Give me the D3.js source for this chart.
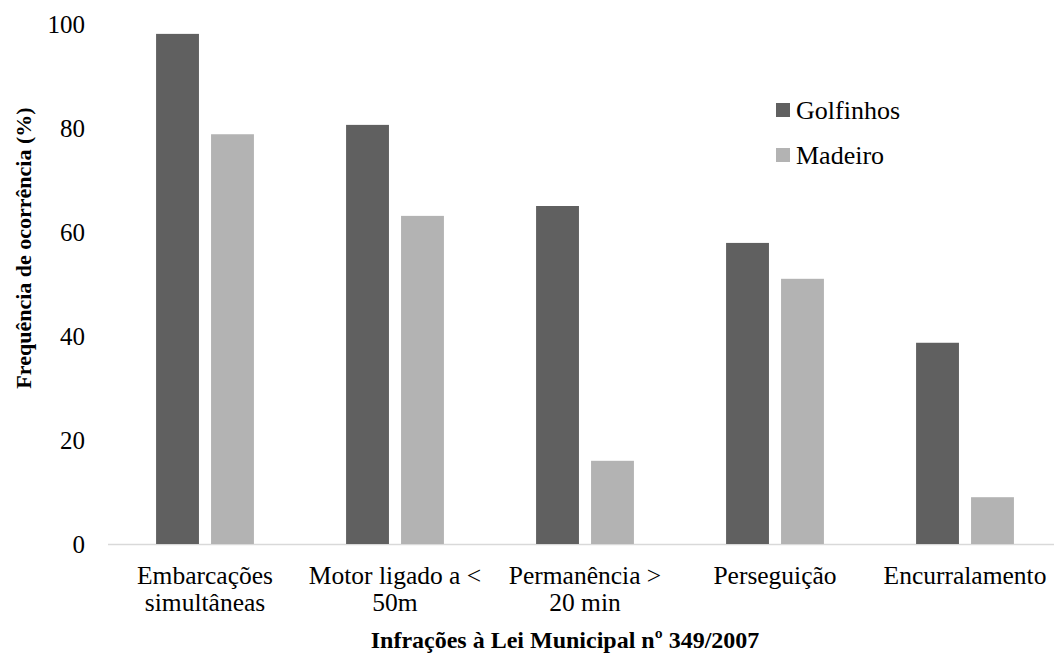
<!DOCTYPE html>
<html><head><meta charset="utf-8">
<script src="https://cdn.jsdelivr.net/npm/d3@7"></script>
<style>body{margin:0;background:#fff}svg{display:block}</style>
</head><body><svg id="c" width="1054" height="656"></svg>
<script>
const categories = [["Embarcações","simultâneas"],["Motor ligado a <","50m"],["Permanência >","20 min"],["Perseguição"],["Encurralamento"]];
const seriesNames = ["Golfinhos","Madeiro"];
const golfinhos = [98.1, 80.6, 65.0, 57.9, 38.7];
const madeiro = [78.8, 63.1, 16.0, 51.0, 9.0];
const yTicks = [0,20,40,60,80,100];
const colors = ["#606060","#b3b3b3"];
const FF = "'Liberation Serif', 'Times New Roman', Times, serif";

const svg = d3.select("#c");
const y = d3.scaleLinear().domain([0,100]).range([544,24]);
const x0 = d3.scaleBand().domain(d3.range(categories.length)).range([110,1060]).paddingInner(0.485).paddingOuter(0.2425);
const x1 = d3.scaleBand().domain(seriesNames).range([0,x0.bandwidth()]).paddingInner(0.22);
const seriesVals = [golfinhos, madeiro];

svg.append("line").attr("x1",108).attr("x2",1054).attr("y1",y(0)+0.5).attr("y2",y(0)+0.5).attr("stroke","#d9d9d9").attr("stroke-width",1.5);

svg.append("g").selectAll("text").data(yTicks).join("text")
  .attr("font-family",FF)
  .attr("x",85).attr("y",d=>y(d)).attr("dy","0.35em").attr("text-anchor","end")
  .attr("font-size",25).text(d=>d);

const g = svg.append("g");
seriesNames.forEach((s,si)=>{
  g.selectAll(null).data(seriesVals[si]).join("rect")
    .attr("x",(d,i)=>x0(i)+x1(s)).attr("width",x1.bandwidth())
    .attr("y",d=>y(d)).attr("height",d=>y(0)-y(d))
    .attr("fill",colors[si]);
});

const cl = svg.append("g");
categories.forEach((lines,i)=>{
  const cx = x0(i)+x0.bandwidth()/2;
  const t = cl.append("text").attr("font-family",FF).attr("text-anchor","middle").attr("font-size",25.5)
    .attr("x",cx).attr("y",584);
  lines.forEach((l,j)=>t.append("tspan").attr("x",cx).attr("dy",j?27:0).text(l));
});

svg.append("text").attr("font-family",FF).attr("x",565).attr("y",648).attr("text-anchor","middle").attr("font-size",24).attr("font-weight","bold")
  .text("Infrações à Lei Municipal nº 349/2007");
svg.append("text").attr("font-family",FF).attr("transform","translate(31,248) rotate(-90)").attr("text-anchor","middle").attr("font-size",22).attr("font-weight","bold")
  .text("Frequência de ocorrência (%)");

const lg = svg.append("g");
seriesNames.forEach((s,i)=>{
  const yy = 110 + i*45;
  lg.append("rect").attr("x",776).attr("y",yy-7).attr("width",14).attr("height",14).attr("fill",colors[i]);
  lg.append("text").attr("font-family",FF).attr("x",796).attr("y",yy).attr("dy","0.35em").attr("font-size",26).text(s);
});
</script></body></html>
